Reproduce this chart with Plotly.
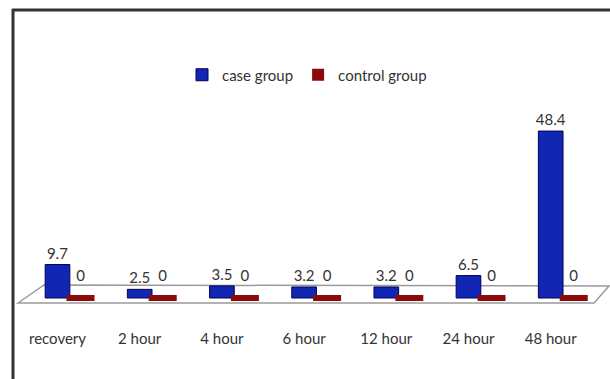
import plotly.graph_objects as go

categories = ["recovery", "2 hour", "4 hour", "6 hour", "12 hour", "24 hour", "48 hour"]
case_group = [9.7, 2.5, 3.5, 3.2, 3.2, 6.5, 48.4]
control_group = [0, 0, 0, 0, 0, 0, 0]

FONT = "Lato, 'Open Sans', sans-serif"
TXT = "#333333"
BLUE = "#1226b4"
RED = "#8b0a0a"

idx = list(range(len(categories)))
ctrl_x = [i + 0.28 for i in idx]

fig = go.Figure()
fig.add_trace(go.Bar(
    x=idx, y=case_group, width=0.3, name="case group",
    marker=dict(color=BLUE, line=dict(color="#00005a", width=1)),
    text=[str(v) for v in case_group], textposition="outside", constraintext="none",
    textfont=dict(family=FONT, size=15, color=TXT), cliponaxis=False,
))
fig.add_trace(go.Bar(
    x=ctrl_x, y=control_group, width=0.29, name="control group",
    marker=dict(color=RED, line=dict(width=0)),
))
fig.add_trace(go.Scatter(
    x=ctrl_x, y=control_group, mode="markers+text", showlegend=False,
    marker=dict(symbol="line-ew", size=20, line=dict(color=RED, width=6)),
    text=[str(v) for v in control_group], textposition="top center",
    textfont=dict(family=FONT, size=15, color=TXT), cliponaxis=False,
))

W, H = 610, 379
L, R, T, B = 18, 15, 60, 69
pw, ph = W - L - R, H - T - B


def px(xp):
    return (xp - L) / pw


def py(yp):
    return (H - B - yp) / ph


floor = [(18, 303), (44, 285), (609, 286), (594, 303)]
path = "M " + " L ".join(f"{px(a):.4f},{py(b):.4f}" for a, b in floor) + " Z"

shapes = [
    dict(type="path", xref="paper", yref="paper", path=path,
         fillcolor="white", line=dict(color="#9a9a9a", width=1.5), layer="below"),
    dict(type="line", xref="paper", yref="paper", x0=px(13), x1=px(13), y0=py(9), y1=py(379),
         line=dict(color="#333333", width=3)),
    dict(type="line", xref="paper", yref="paper", x0=px(12), x1=px(612), y0=py(10), y1=py(10),
         line=dict(color="#333333", width=3)),
]

fig.update_layout(
    width=W, height=H,
    margin=dict(l=L, r=R, t=T, b=B),
    paper_bgcolor="white", plot_bgcolor="rgba(0,0,0,0)",
    barmode="overlay",
    font=dict(family=FONT, size=15, color=TXT),
    showlegend=True,
    legend=dict(orientation="h", x=px(182), xanchor="left", y=py(75), yanchor="middle",
                font=dict(family=FONT, size=15, color=TXT), traceorder="normal",
                bgcolor="rgba(0,0,0,0)"),
    shapes=shapes,
    xaxis=dict(range=[-0.4805, 6.539], tickmode="array", tickvals=idx, ticktext=categories,
               showgrid=False, zeroline=False, showline=False, ticks="",
               ticklabelstandoff=18, tickfont=dict(family=FONT, size=15, color=TXT)),
    yaxis=dict(range=[-3.48, 69.0], visible=False, showgrid=False, zeroline=False),
)

fig.write_html("out.html")
